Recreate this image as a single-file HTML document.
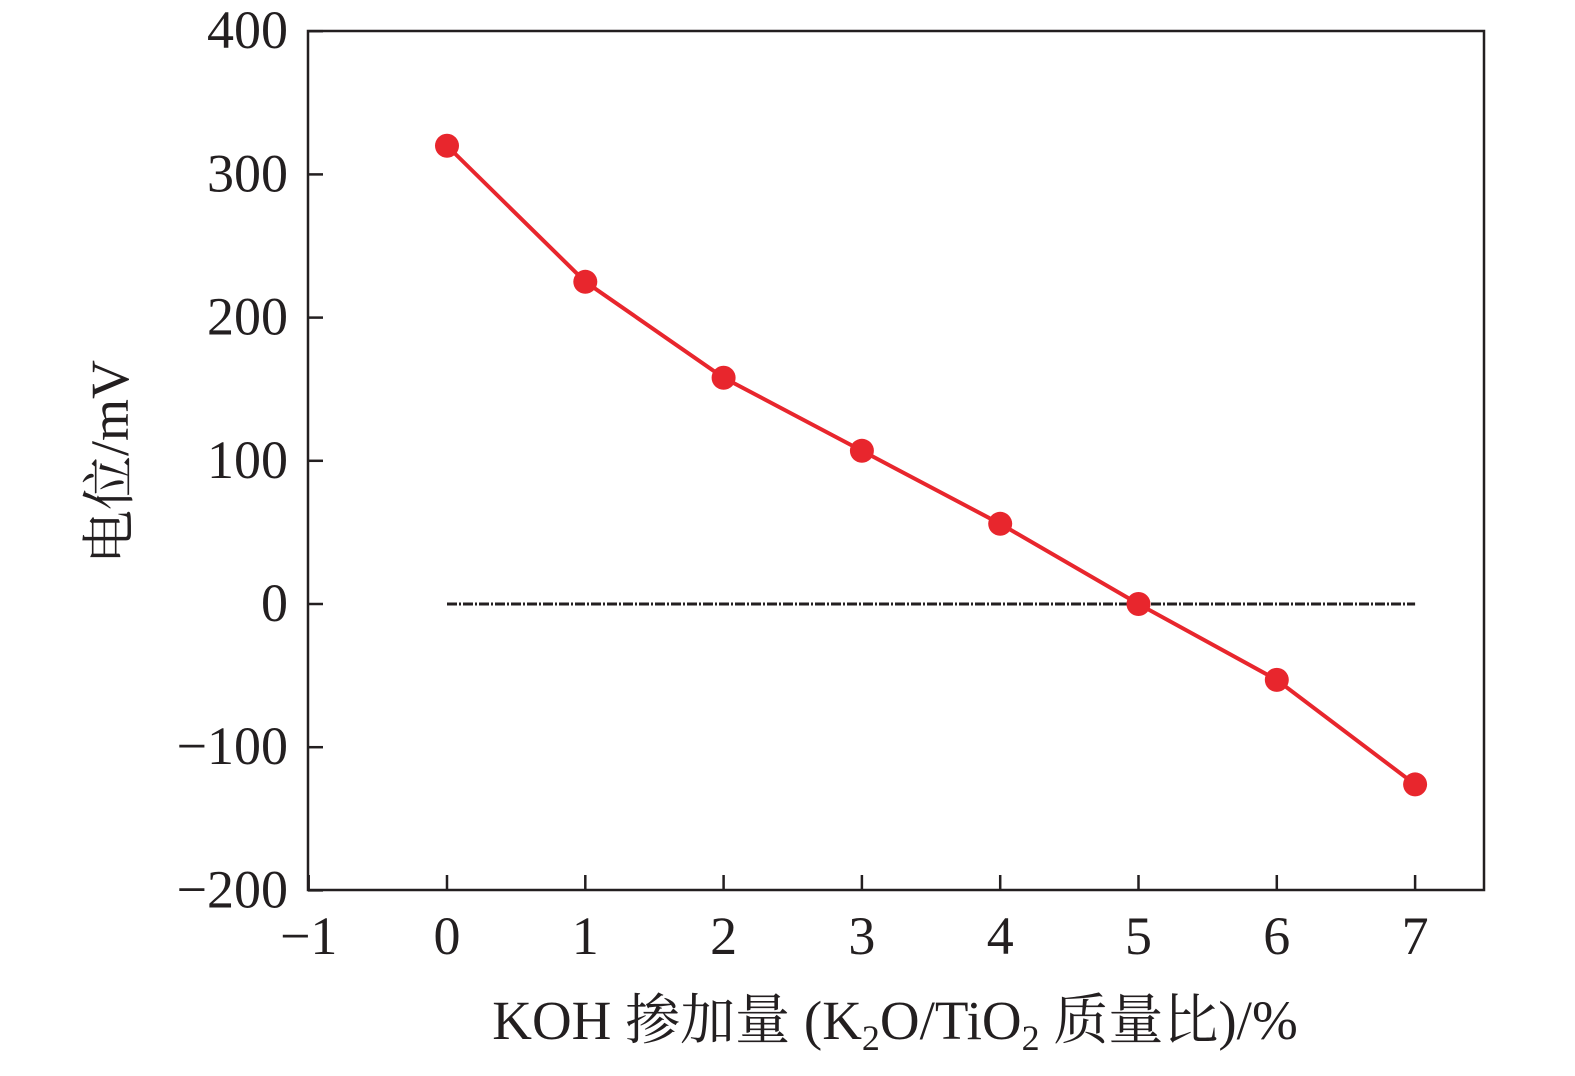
<!DOCTYPE html>
<html><head><meta charset="utf-8"><style>
body{margin:0;background:#fff;}
svg text{font-family:"Liberation Serif","Noto Serif CJK SC",serif;fill:#231f20;}
</style></head><body>
<svg id="chart" width="1575" height="1071" viewBox="0 0 1575 1071" xmlns="http://www.w3.org/2000/svg">
<rect x="308" y="31" width="1176" height="859" fill="none" stroke="#231f20" stroke-width="2.5"/>
<g id="axes"></g>
<line id="zero-line" stroke="#231f20" stroke-width="3" stroke-dasharray="10,2,2,2"/>
<polyline id="series-line" fill="none" stroke="#e8262d" stroke-width="4"/>
<g id="points"></g>
<text x="895" y="1039" font-size="55" text-anchor="middle">KOH 掺加量 (K<tspan font-size="36" dy="11">2</tspan><tspan dy="-11">O/TiO</tspan><tspan font-size="36" dy="11">2</tspan><tspan dy="-11"> 质量比)/%</tspan></text>
<text transform="translate(128,462) rotate(-90)" font-size="54" text-anchor="middle">电位/mV</text>
</svg>
<script>
const xValues=[0,1,2,3,4,5,6,7];
const yValues=[320,225,158,107,56,0,-53,-126];
const xTicks=[-1,0,1,2,3,4,5,6,7];
const yTicks=[-200,-100,0,100,200,300,400];
const ns="http://www.w3.org/2000/svg";
const xs=v=>447+(v)*138.3;
const ys=v=>604-v*1.432;
const axes=document.getElementById('axes');
function mk(tag,attrs,parent){const e=document.createElementNS(ns,tag);for(const k in attrs)e.setAttribute(k,attrs[k]);parent.appendChild(e);return e;}
yTicks.forEach(t=>{
 const l=mk('line',{x1:308,x2:323,y1:ys(t),y2:ys(t),stroke:'#231f20','stroke-width':2.5},axes);
 
 
 const tx=mk('text',{x:288,y:ys(t)+17,'font-size':54,'text-anchor':'end'},axes);
 tx.textContent=(t<0?'\u2212'+(-t):t);
 
 
});
xTicks.forEach(t=>{
 const l=mk('line',{x1:xs(t),x2:xs(t),y1:890,y2:875,stroke:'#231f20','stroke-width':2.5},axes);
 
 
 const tx=mk('text',{x:xs(t),y:954,'font-size':54,'text-anchor':'middle'},axes);
 tx.textContent=(t<0?'\u2212'+(-t):t);
 
 
});
const z=document.getElementById('zero-line');
z.setAttribute('x1',xs(xValues[0]));z.setAttribute('x2',xs(xValues[xValues.length-1]));
z.setAttribute('y1',ys(0));z.setAttribute('y2',ys(0));
document.getElementById('series-line').setAttribute('points',xValues.map((x,i)=>xs(x)+','+ys(yValues[i])).join(' '));
const pts=document.getElementById('points');
xValues.forEach((x,i)=>{
 const c=mk('circle',{cx:xs(x),cy:ys(yValues[i]),r:12,fill:'#e8262d'},pts);
 
 
});
</script>
</body></html>
